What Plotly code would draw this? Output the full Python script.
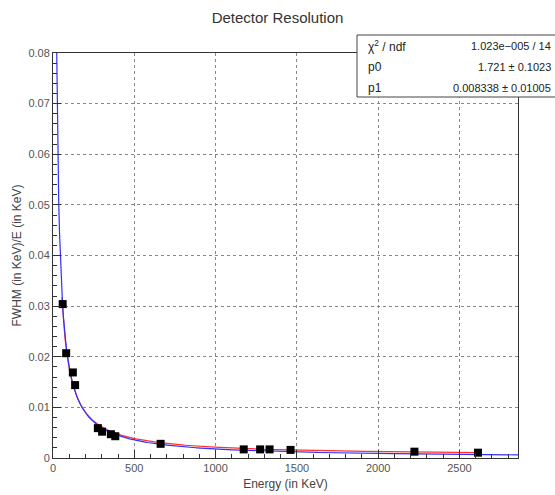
import numpy as np
import plotly.graph_objects as go

# Data
energy_kev = [59.5, 81, 122, 136, 276, 302, 356, 383, 662, 1173, 1274, 1332, 1461, 2223, 2614]
resolution = [0.0304, 0.0207, 0.0169, 0.0144, 0.0059, 0.0052, 0.0047, 0.0043, 0.0028,
              0.0017, 0.0017, 0.0017, 0.0016, 0.00125, 0.00105]

# Fit parameters (stat box)
p0 = 1.721
p1 = 0.008338
chi2_text = "1.023e\u2212005 / 14"
p0_text = "1.721 \u00b1 0.1023"
p1_text = "0.008338 \u00b1 0.01005"

# Approximate fit curves
blue_A = 1.78
red_offset = 0.0004
blue_x = np.linspace(21, 2860, 600)
blue_y = blue_A / blue_x
red_x = np.linspace(55, 2614, 600)
red_y = p0 / red_x + red_offset

x_ticks = [0, 500, 1000, 1500, 2000, 2500]
y_ticks = [0, 0.01, 0.02, 0.03, 0.04, 0.05, 0.06, 0.07, 0.08]
y_tick_text = ["0", "0.01", "0.02", "0.03", "0.04", "0.05", "0.06", "0.07", "0.08"]

fig = go.Figure()
fig.add_trace(go.Scatter(x=red_x, y=red_y, mode="lines",
                         line=dict(color="#ff3030", width=1.2), showlegend=False))
fig.add_trace(go.Scatter(x=blue_x, y=blue_y, mode="lines",
                         line=dict(color="#3030ff", width=1.2), showlegend=False))
fig.add_trace(go.Scatter(x=energy_kev, y=resolution, mode="markers",
                         marker=dict(symbol="square", size=8, color="black"),
                         showlegend=False))

L, R, T, B = 53, 37, 53, 37
W, H = 555, 495
pw, ph = W - L - R, H - T - B

def px(x):
    return (x - L) / pw

def py(y):
    return (H - B - y) / ph

axis_font = dict(family="Liberation Sans", size=11, color="#555555")
title_font = dict(family="Liberation Sans", size=12, color="#444444")

fig.update_layout(
    width=W, height=H,
    margin=dict(l=L, r=R, t=T, b=B, autoexpand=False),
    plot_bgcolor="white", paper_bgcolor="white",
    title=dict(text="Detector Resolution", x=0.5, xanchor="center", y=1 - 18 / H,
               yanchor="middle", font=dict(family="Liberation Sans", size=15, color="#333333")),
    xaxis=dict(range=[0, 2860], tickvals=x_ticks, ticks="inside", ticklen=8,
               tickcolor="#333333", showline=True, linecolor="#333333", mirror=True,
               showgrid=True, gridcolor="#888888", griddash="dot", gridwidth=1,
               zeroline=False, tickfont=axis_font, automargin=False,
               minor=dict(dtick=100, ticks="inside", ticklen=4, tickcolor="#333333", showgrid=False),
               title=dict(text="Energy (in KeV)", font=title_font, standoff=6)),
    yaxis=dict(range=[0, 0.08], tickvals=y_ticks, ticktext=y_tick_text,
               ticks="inside", ticklen=8,
               tickcolor="#333333", showline=True, linecolor="#333333", mirror=True,
               showgrid=True, gridcolor="#888888", griddash="dot", gridwidth=1,
               zeroline=False, tickfont=axis_font, automargin=False,
               minor=dict(dtick=0.002, ticks="inside", ticklen=4, tickcolor="#333333", showgrid=False),
               title=dict(text="FWHM (in KeV)/E (in KeV)", font=title_font, standoff=4)),
)

# Stat box
fig.add_shape(type="rect", xref="paper", yref="paper",
              x0=px(357), x1=px(556), y0=py(97), y1=py(35),
              line=dict(color="#444444", width=1), fillcolor="white", layer="above")
rows = [("\u03c7<sup>2</sup> / ndf", chi2_text, 46), ("p0", p0_text, 67), ("p1", p1_text, 88)]
for lab, val, yy in rows:
    fig.add_annotation(xref="paper", yref="paper", x=px(366), y=py(yy), text=lab,
                       showarrow=False, xanchor="left", yanchor="middle",
                       font=dict(family="Liberation Sans", size=12, color="#222222"))
    fig.add_annotation(xref="paper", yref="paper", x=px(553), y=py(yy), text=val,
                       showarrow=False, xanchor="right", yanchor="middle",
                       font=dict(family="Liberation Sans", size=11, color="#222222"))

fig.write_html("out.html", config={"displayModeBar": False},
               post_script="document.body.style.margin='0';document.body.style.padding='0';")
